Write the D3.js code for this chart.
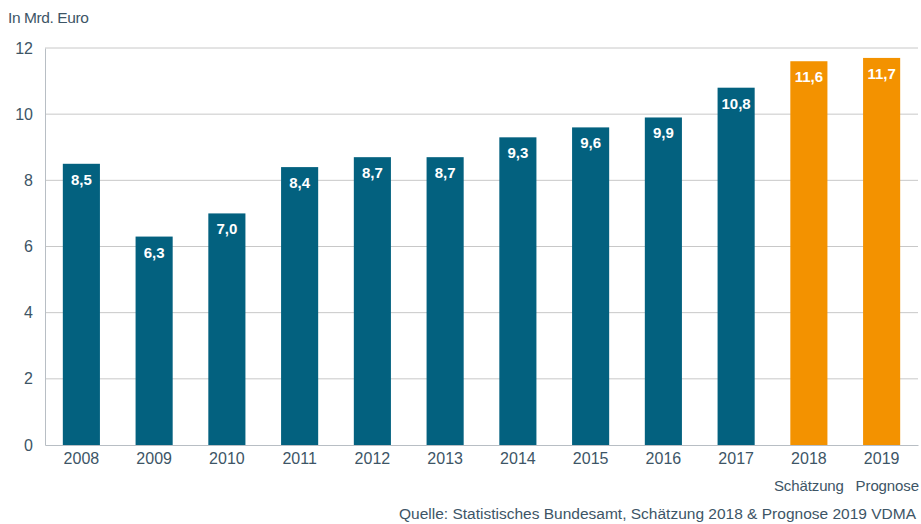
<!DOCTYPE html>
<html>
<head>
<meta charset="utf-8">
<script src="https://cdn.jsdelivr.net/npm/d3@7"></script>
<style>
    body { margin: 0; background: #fff; }
    text { font-family: "Liberation Sans", Arial, sans-serif; }
</style>
</head>
<body>
<div id="chart"></div>
<script>
// chart data
const years = ["2008", "2009", "2010", "2011", "2012", "2013", "2014", "2015", "2016", "2017", "2018", "2019"];
const values = [8.5, 6.3, 7.0, 8.4, 8.7, 8.7, 9.3, 9.6, 9.9, 10.8, 11.6, 11.7];
const subLabels = ["", "", "", "", "", "", "", "", "", "", "Schätzung", "Prognose"];
const yTicks = [0, 2, 4, 6, 8, 10, 12];

let width = 921, height = 524;
let margin = {top: 48, right: 3, bottom: 79, left: 45};
let innerW = width - margin.left - margin.right,
    innerH = height - margin.top - margin.bottom;

let svg = d3.select("#chart").append("svg")
    .attr("width", width)
    .attr("height", height);

let g = svg.append("g")
    .attr("transform", `translate(${margin.left},${margin.top})`);

let x = d3.scaleBand().domain(years).range([0, innerW]).paddingInner(0.49).paddingOuter(0.245);
let y = d3.scaleLinear().domain([0, 12]).range([innerH, 0]);

let textColor = "#3d5566";

// gridlines
g.selectAll(".grid")
    .data(yTicks.filter(d => d > 0))
    .enter().append("line")
    .attr("x1", 0).attr("x2", innerW)
    .attr("y1", d => y(d)).attr("y2", d => y(d))
    .attr("stroke", "#c8c8c8")
    .attr("stroke-width", 1);

// y axis
let yAxis = g.append("g")
    .call(d3.axisLeft(y).tickValues(yTicks).tickSize(0).tickPadding(12));
yAxis.select(".domain").attr("stroke", "#b8bec4");
yAxis.selectAll("text")
    .attr("font-size", "16px")
    .attr("fill", textColor)
    .style("font-family", "'Liberation Sans', Arial, sans-serif");

// bars
g.selectAll(".bar")
    .data(values)
    .enter().append("rect")
    .attr("x", (d, i) => x(years[i]))
    .attr("y", d => y(d))
    .attr("width", x.bandwidth())
    .attr("height", d => innerH - y(d))
    .attr("fill", (d, i) => i >= 10 ? "#f39200" : "#03617f");

// value labels
g.selectAll(".val")
    .data(values)
    .enter().append("text")
    .attr("x", (d, i) => x(years[i]) + x.bandwidth() / 2)
    .attr("y", d => y(d) + 21)
    .attr("text-anchor", "middle")
    .attr("font-size", "15px")
    .attr("font-weight", "bold")
    .attr("fill", "#fff")
    .text(d => d.toFixed(1).replace(".", ","));

// x axis
let xAxis = g.append("g")
    .attr("transform", `translate(0,${innerH})`)
    .call(d3.axisBottom(x).tickSize(0).tickPadding(8));
xAxis.select(".domain").attr("stroke", "#b8bec4");
xAxis.selectAll("text")
    .attr("font-size", "16px")
    .attr("fill", textColor)
    .style("font-family", "'Liberation Sans', Arial, sans-serif");

// sub labels (last one is pushed against the right edge)
let lastIdx = subLabels.length - 1;
g.selectAll(".sub")
    .data(subLabels)
    .enter().append("text")
    .attr("x", (d, i) => i === lastIdx ? innerW + 1 : x(years[i]) + x.bandwidth() / 2)
    .attr("y", innerH + 46)
    .attr("text-anchor", (d, i) => i === lastIdx ? "end" : "middle")
    .attr("font-size", "15px")
    .attr("letter-spacing", "-0.1px")
    .attr("fill", textColor)
    .text(d => d);

// unit label
svg.append("text")
    .attr("x", 8).attr("y", 23)
    .attr("font-size", "15.5px")
    .attr("letter-spacing", "-0.4px")
    .attr("fill", textColor)
    .text("In Mrd. Euro");

// source
svg.append("text")
    .attr("x", 916).attr("y", 519)
    .attr("text-anchor", "end")
    .attr("font-size", "15.5px")
    .attr("fill", textColor)
    .text("Quelle: Statistisches Bundesamt, Schätzung 2018 & Prognose 2019 VDMA");
</script>
</body>
</html>
